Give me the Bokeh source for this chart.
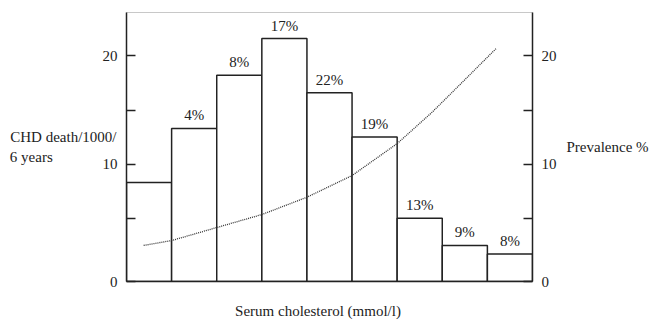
from bokeh.plotting import figure
from bokeh.models import Range1d, LinearAxis, FixedTicker, ColumnDataSource
from bokeh.core.properties import value
from bokeh.embed import file_html
from bokeh.resources import INLINE

# ---- data ----
groups = list(range(9))  # serum cholesterol groups (left to right)
death_rate = [8.3, 13.3, 18.2, 21.6, 16.6, 12.5, 5.0, 2.5, 1.7]
bar_labels = ["", "4%", "8%", "17%", "22%", "19%", "13%", "9%", "8%"]
prev_x = [0.38, 1.0, 2.0, 3.0, 4.0, 5.0, 6.0, 6.75, 7.2, 8.2]
prev_y = [2.5, 2.95, 4.15, 5.35, 6.95, 8.95, 11.9, 14.7, 16.55, 20.7]
y_major = [10, 20]
y_minor = [5, 15]
y_start, y_end = -0.83, 24.0
x_title = "Serum cholesterol (mmol/l)"
X_TITLE_POS = 4.245  # where the x title is centred along the axis (layout)

FONT = "Liberation Serif"
INK = "#222222"
NBSP = "\u00a0"

p = figure(width=651, height=321, output_backend="svg", toolbar_location=None,
           x_range=Range1d(0, len(groups)), y_range=Range1d(y_start, y_end),
           min_border_left=126, min_border_right=119, min_border_top=12,
           min_border_bottom=39)
p.extra_y_ranges = {"prev": Range1d(y_start, y_end)}
p.grid.visible = False
p.outline_line_color = "#c8c8c8"
p.background_fill_color = "white"
p.border_fill_color = "white"

src = ColumnDataSource(dict(x=[g + 0.5 for g in groups], top=death_rate, lab=bar_labels))
p.vbar(x="x", width=1.0, bottom=y_start, top="top", source=src,
       fill_color="white", line_color=INK, line_width=1.5)
p.text(x="x", y="top", text="lab", source=src, text_align="center",
       text_baseline="bottom", y_offset=-5, text_font=value(FONT),
       text_font_size="15px", text_color=INK)

p.line(prev_x, prev_y, y_range_name="prev", line_color="#333333",
       line_width=1.3, line_dash="1 1")

def style_y(ax, standoff):
    ax.ticker = FixedTicker(ticks=[y_start] + y_major, minor_ticks=y_minor)
    ax.major_label_overrides = {y_start: "0"}
    ax.major_tick_in = 9
    ax.major_tick_out = 0
    ax.minor_tick_in = 9
    ax.minor_tick_out = 0
    ax.axis_line_color = INK
    ax.axis_line_width = 1.5
    ax.major_tick_line_color = INK
    ax.major_tick_line_width = 1.3
    ax.minor_tick_line_color = INK
    ax.minor_tick_line_width = 1.3
    ax.major_label_standoff = standoff
    ax.major_label_text_font = FONT
    ax.major_label_text_font_size = "15px"
    ax.major_label_text_color = INK
    ax.axis_label_text_font = FONT
    ax.axis_label_text_font_size = "15px"
    ax.axis_label_text_font_style = "normal"
    ax.axis_label_text_color = INK
    ax.axis_label_orientation = "horizontal"

left = p.yaxis[0]
style_y(left, 9)
left.axis_label = "CHD death/1000/\n6 years" + NBSP * 17
left.axis_label_standoff = -17

right = LinearAxis(y_range_name="prev")
style_y(right, 9)
right.axis_label = "Prevalence %"
right.axis_label_standoff = 7
p.add_layout(right, "right")

xa = p.xaxis[0]
xa.ticker = FixedTicker(ticks=[X_TITLE_POS], minor_ticks=[])
xa.major_label_overrides = {X_TITLE_POS: x_title}
xa.major_tick_line_color = None
xa.minor_tick_line_color = None
xa.major_tick_in = 0
xa.major_tick_out = 0
xa.minor_tick_out = 0
xa.major_label_standoff = 21
xa.major_label_text_font = FONT
xa.major_label_text_font_size = "15px"
xa.major_label_text_color = INK
xa.axis_line_color = INK
xa.axis_line_width = 1.5

open("out.html", "w").write(file_html(p, INLINE))
